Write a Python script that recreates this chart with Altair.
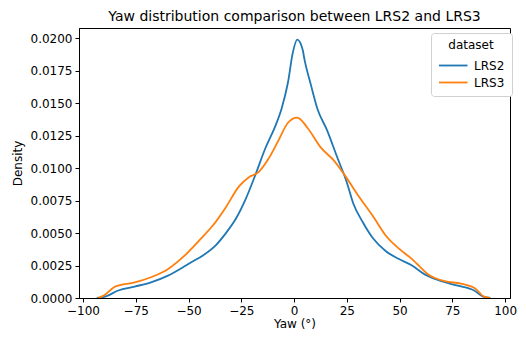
import altair as alt
import pandas as pd

lrs2_yaw = [-93.5, -89.5, -83.3, -75.5, -67.8, -60, -52.3, -49.3, -43, -36.9, -32.3, -27.6, -23, -18.3, -13.7, -9, -5.9, -2.9, -0.6, 1.5, 4.1, 4.9, 8, 11, 15.7, 20.3, 25, 28, 32.7, 37.4, 43.5, 49.7, 55.9, 62.1, 69.8, 77.6, 85.3, 90, 93]
lrs2_den = [0.0, 0.0001, 0.00058, 0.00088, 0.0012, 0.0017, 0.0024, 0.0027, 0.0033, 0.0041, 0.0050, 0.0061, 0.0076, 0.0095, 0.0115, 0.0132, 0.0146, 0.0166, 0.0189, 0.0199, 0.0191, 0.0184, 0.0164, 0.0146, 0.0129, 0.0109, 0.0089, 0.0073, 0.0058, 0.0046, 0.0036, 0.0030, 0.0025, 0.0018, 0.0013, 0.00095, 0.00058, 0.00008, 0.0]

lrs3_yaw = [-93, -90, -84.8, -75.5, -67.8, -60, -52.3, -44.6, -38.4, -32.3, -26.1, -21.4, -16.8, -12.2, -7.5, -2.9, 1.5, 6.4, 12.6, 18.8, 23.4, 31.2, 37.4, 43.5, 49.7, 55.9, 63.7, 71.4, 79.1, 86.1, 90, 93]
lrs3_den = [0.0, 0.0002, 0.00088, 0.0012, 0.0016, 0.0022, 0.0032, 0.0045, 0.0056, 0.0070, 0.0086, 0.0093, 0.0097, 0.0107, 0.0121, 0.0135, 0.0139, 0.0131, 0.0116, 0.0106, 0.0096, 0.0077, 0.0063, 0.0048, 0.0038, 0.0030, 0.0018, 0.0013, 0.0011, 0.0007, 0.0001, 0.0]

datasets = ["LRS2", "LRS3"]
colors = ["#1f77b4", "#ff7f0e"]

df = pd.concat([
    pd.DataFrame({"Yaw": lrs2_yaw, "Density": lrs2_den, "dataset": "LRS2"}),
    pd.DataFrame({"Yaw": lrs3_yaw, "Density": lrs3_den, "dataset": "LRS3"}),
])

x_ticks = [-100, -75, -50, -25, 0, 25, 50, 75, 100]
y_ticks = [0, 0.0025, 0.005, 0.0075, 0.01, 0.0125, 0.015, 0.0175, 0.02]

font = "DejaVu Sans"

chart = alt.Chart(df).mark_line(interpolate="monotone", strokeWidth=1.8, clip=True).encode(
    x=alt.X("Yaw:Q", title="Yaw (°)",
            scale=alt.Scale(domain=[-101.9, 102.3], nice=False, zero=False),
            axis=alt.Axis(values=x_ticks, format="d", grid=False, titlePadding=2)),
    y=alt.Y("Density:Q", title="Density",
            scale=alt.Scale(domain=[0, 0.0208], nice=False),
            axis=alt.Axis(values=y_ticks, format=".4f", grid=False, titlePadding=6)),
    color=alt.Color("dataset:N", title="dataset",
                    scale=alt.Scale(domain=datasets, range=colors),
                    legend=alt.Legend(orient="none", legendX=352, legendY=5,
                                      symbolType="M-1,0H2", symbolSize=361,
                                      symbolStrokeWidth=1.8,
                                      labelOffset=15,
                                      fillColor="white", strokeColor="#d0d0d0",
                                      padding=7, cornerRadius=3,
                                      titleAnchor="middle", titleFontWeight="normal",
                                      titleFontSize=12, labelFontSize=12,
                                      titleFont=font, labelFont=font,
                                      titleColor="black", labelColor="black",
                                      titlePadding=3, rowPadding=0)),
).properties(
    width=431, height=270,
    title=alt.TitleParams("Yaw distribution comparison between LRS2 and LRS3",
                          fontSize=14, font=font, fontWeight="normal", color="black",
                          offset=4),
    autosize=alt.AutoSizeParams(type="none"),
    padding={"left": 71, "top": 20, "right": 8, "bottom": 34},
).configure_view(
    stroke="black", strokeWidth=1
).configure_axis(
    domainColor="black", tickColor="black", labelColor="black", titleColor="black",
    labelFont=font, titleFont=font, labelFontSize=12, titleFontSize=12,
    titleFontWeight="normal", tickSize=4, labelPadding=3,
)

chart.save("out.html", embed_options={"renderer": "svg", "actions": False})
